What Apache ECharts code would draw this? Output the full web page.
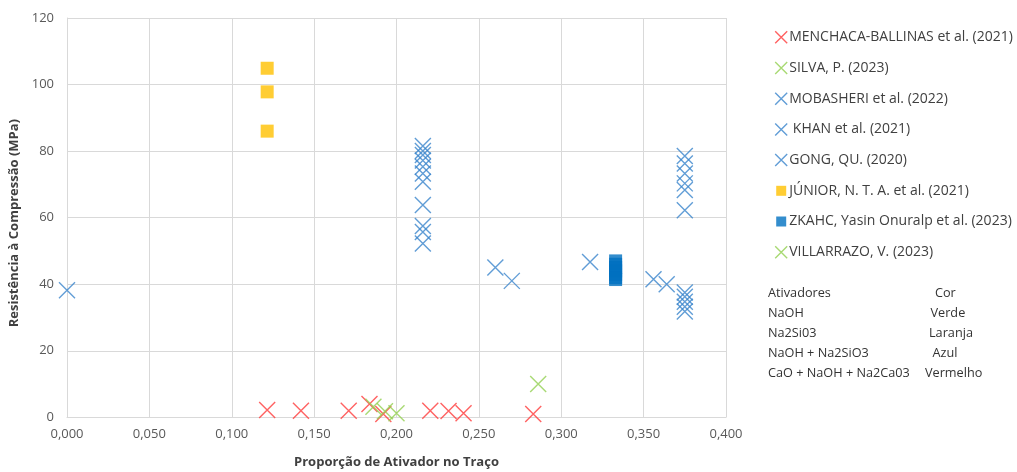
<!DOCTYPE html>
<html>
<head>
<meta charset="utf-8">
<script src="https://cdn.jsdelivr.net/npm/echarts@6/dist/echarts.min.js"></script>
<style>html,body{margin:0;padding:0;background:#fff}#c{width:1017px;height:472px}</style>
</head>
<body>
<div id="c"></div>
<script>
// ---- data ----
const seriesNames = ["MENCHACA-BALLINAS et al. (2021)", "SILVA, P. (2023)", "MOBASHERI et al. (2022)", " KHAN et al. (2021)", "GONG, QU. (2020)", "JÚNIOR, N. T. A. et al. (2021)", "ZKAHC, Yasin Onuralp et al. (2023)", "VILLARRAZO, V. (2023)"];
const menchaca = [[0.1215, 2.2], [0.142, 2.0], [0.171, 2.0], [0.1836, 4.0], [0.192, 1.0], [0.2205, 2.0], [0.2316, 1.9], [0.2407, 1.2], [0.283, 1.0]];
const silva = [[0.286, 10.0]];
const mobasheri = [[0.216, 81.5], [0.216, 80.0], [0.216, 78.8], [0.216, 77.2], [0.216, 75.3], [0.216, 73.3], [0.216, 70.8], [0.216, 63.8], [0.216, 57.5], [0.216, 55.7], [0.216, 52.2]];
const khan = [[0.375, 78.5], [0.375, 76.3], [0.375, 73.3], [0.375, 70.3], [0.375, 68.3], [0.375, 62.2], [0.375, 37.5], [0.375, 36.2], [0.375, 34.7], [0.375, 33.2], [0.375, 31.8]];
const gong = [[0.0, 38.2], [0.260, 45.0], [0.270, 41.0], [0.3175, 46.7], [0.356, 41.5], [0.364, 40.0]];
const junior = [[0.1215, 104.9], [0.1215, 97.8], [0.1215, 86.0]];
const zkahc = [[0.333, 47.0], [0.333, 46.0], [0.333, 45.0], [0.333, 44.0], [0.333, 43.0], [0.333, 42.0], [0.333, 41.4]];
const villarrazo = [[0.186, 3.2], [0.193, 1.8], [0.200, 1.2]];
const tableLeft = ["Ativadores", "NaOH", "Na2Si03", "NaOH + Na2SiO3", "CaO + NaOH + Na2Ca03"];
const tableRight = ["Cor", "Verde", "Laranja", "Azul", "Vermelho"];
const xAxisName = "Proporção de Ativador no Traço";
const yAxisName = "Resistência à Compressão (MPa)";

// ---- layout / styles ----
const tableRightX = [935, 930.5, 929, 932.5, 925];
const RED = "#FF3B3B", GREEN = "#92D050", BLUE = "#3A84CC", DBLUE = "#0070C0", YEL = "#FFC000";
const CROSS = "path://M0,0L10,10M0,10L10,0";
const SQ_ICON = "path://M0,0M1,1L11,1L11,11L1,11ZM12,12";
const FONT = "Open Sans";

function crossSeries(name, data, color) {
  return {
    name, type: "scatter", data, symbol: CROSS, symbolSize: 16,
    itemStyle: {color: color, borderColor: color, borderWidth: 1.4},
    emphasis: {disabled: true}, animation: false
  };
}
function squareSeries(name, data, color) {
  return {
    name, type: "scatter", data, symbol: "rect", symbolSize: 13,
    itemStyle: {color: color},
    emphasis: {disabled: true}, animation: false
  };
}

const series = [
  crossSeries(seriesNames[0], menchaca, RED),
  crossSeries(seriesNames[1], silva, GREEN),
  crossSeries(seriesNames[2], mobasheri, BLUE),
  crossSeries(seriesNames[3], khan, BLUE),
  crossSeries(seriesNames[4], gong, BLUE),
  squareSeries(seriesNames[5], junior, YEL),
  squareSeries(seriesNames[6], zkahc, DBLUE),
  crossSeries(seriesNames[7], villarrazo, GREEN)
];

const legendData = seriesNames.map((n, i) => ({
  name: n,
  icon: (i === 5 || i === 6) ? SQ_ICON : CROSS
}));

const graphics = [];
tableLeft.forEach((t, i) => {
  const y = 293.3 + i * 20;
  graphics.push({type: "text", x: 768, y: y, style: {text: t, font: "12.7px '" + FONT + "'", fill: "#333", textVerticalAlign: "middle"}});
  graphics.push({type: "text", x: tableRightX[i], y: y, style: {text: tableRight[i], font: "12.7px '" + FONT + "'", fill: "#333", textVerticalAlign: "middle"}});
});

const chart = echarts.init(document.getElementById("c"), null, {renderer: "canvas"});
chart.setOption({
  animation: false,
  textStyle: {fontFamily: FONT},
  grid: {left: 67, right: 291, top: 18, bottom: 54.7, containLabel: false, outerBoundsMode: "none"},
  xAxis: {
    type: "value", min: 0, max: 0.4, interval: 0.05,
    name: xAxisName, nameLocation: "middle", nameGap: 38.5,
    nameTextStyle: {fontSize: 13, fontWeight: "bold", color: "#404040", fontFamily: FONT},
    axisLine: {show: true, lineStyle: {color: "#D9D9D9", width: 1}},
    axisTick: {show: false},
    axisLabel: {fontSize: 13, color: "#595959", margin: 10, formatter: v => v.toFixed(3).replace(".", ",")},
    splitLine: {show: true, lineStyle: {color: "#D9D9D9", width: 1}}
  },
  yAxis: {
    type: "value", min: 0, max: 120, interval: 20,
    name: yAxisName, nameLocation: "middle", nameGap: 40,
    nameTextStyle: {fontSize: 13, fontWeight: "bold", color: "#404040", fontFamily: FONT, padding: [0, 11, 0, 0]},
    axisLine: {show: true, lineStyle: {color: "#D9D9D9", width: 1}},
    axisTick: {show: false},
    axisLabel: {fontSize: 13, color: "#595959", margin: 13},
    splitLine: {show: true, lineStyle: {color: "#D9D9D9", width: 1}}
  },
  legend: {
    orient: "vertical", left: 774.5, top: 30.3, itemGap: 16.7, padding: 0,
    itemWidth: 12, itemHeight: 12, itemStyle: {borderWidth: 1.4},
    textStyle: {fontSize: 14, lineHeight: 12, color: "#404040", fontFamily: FONT, padding: [0, 0, 0, -3]},
    data: legendData, selectedMode: false
  },
  graphic: graphics,
  series
});
</script>
</body>
</html>
